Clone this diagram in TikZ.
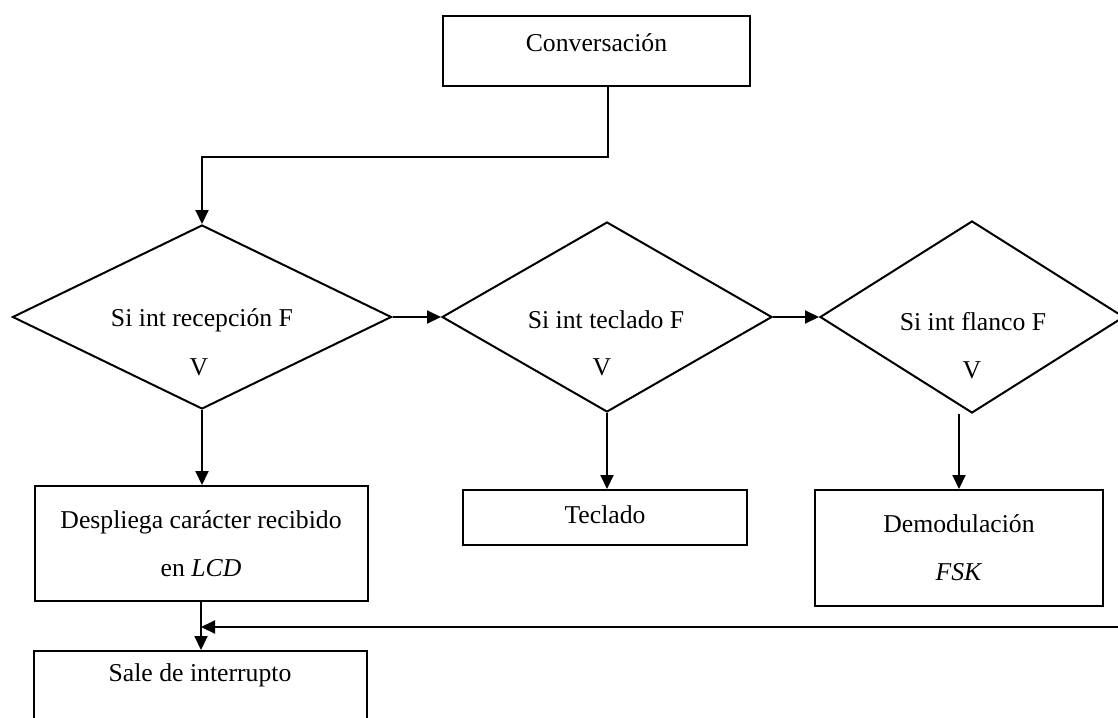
\documentclass[tikz,border=0pt]{standalone}
\usepackage{fontspec}
\setmainfont{Liberation Serif}
\usetikzlibrary{shapes.geometric,arrows.meta}

\begin{document}
\begin{tikzpicture}[x=1pt, y=-1pt,
  every node/.style={font=\fontsize{25.7pt}{48pt}\selectfont, align=center, inner sep=0pt},
  box/.style={draw, line width=2pt},
  cond/.style={draw, diamond, line width=2pt},
  arr/.style={-{Triangle[length=14pt,width=13pt]}, line width=2pt}]
\useasboundingbox (0,0) rectangle (1118,717);
\clip (0,0) rectangle (1118,717);
\node[box, anchor=north, minimum width=307pt, text height=36pt, text depth=34pt] (conv) at (596.5,15) {Conversación};
\node[cond, minimum width=379pt, minimum height=184pt] (d1) at (202,317) {};
\node[cond, minimum width=330pt, minimum height=190pt] (d2) at (607,317) {};
\node[cond, minimum width=304pt, minimum height=192pt] (d3) at (972,317) {};
\node (q1) at (202,320) {Si int recepción F};
\node (v1) at (199,367) {V};
\node (q2) at (606,320) {Si int teclado F};
\node (v2) at (602,367) {V};
\node (q3) at (973,322) {Si int flanco F};
\node (v3) at (972,370) {V};
\node[box, minimum width=333pt, minimum height=115pt] (lcd) at (201,543.5) {Despliega carácter recibido\\en \textit{LCD}};
\node[box, anchor=north, minimum width=284pt, text height=33pt, text depth=22pt] (tec) at (605,489) {Teclado};
\node[box, minimum width=288pt, minimum height=116pt] (dem) at (959,548) {Demodulación\\\textit{FSK}};
\node[box, anchor=north, minimum width=333pt, text height=30pt, text depth=50pt] (sale) at (200,650) {Sale de interrupto};
\coordinate (ret) at (1130,627);
\draw[arr] ([xshift=11.5pt]conv.south) -- ++(0,70) -| (d1.north);
\draw[arr] (d1.east) -- (d2.west);
\draw[arr] (d2.east) -- (d3.west);
\draw[arr] (d1.south) -- (d1.south |- lcd.north);
\draw[arr] (d2.south) -- (d2.south |- tec.north);
\draw[arr] (d3.south -| dem.north) -- (dem.north);
\draw[arr] (lcd.south) -- (lcd.south |- sale.north);
\draw[arr] (ret) -- (ret -| lcd.south);
\end{tikzpicture}
\end{document}
